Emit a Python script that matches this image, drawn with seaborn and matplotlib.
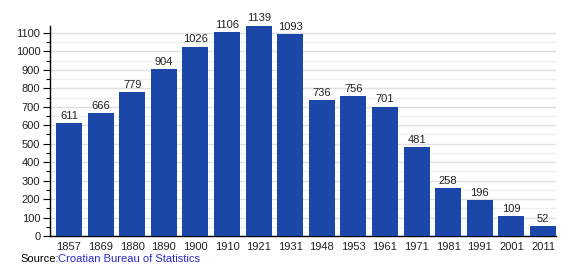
import matplotlib
matplotlib.use("Agg")
import matplotlib.pyplot as plt
import seaborn as sns
import pandas as pd
from matplotlib.ticker import MultipleLocator

years = ["1857", "1869", "1880", "1890", "1900", "1910", "1921", "1931",
         "1948", "1953", "1961", "1971", "1981", "1991", "2001", "2011"]
population = [611, 666, 779, 904, 1026, 1106, 1139, 1093,
              736, 756, 701, 481, 258, 196, 109, 52]

df = pd.DataFrame({"year": years, "pop": population})

sns.set_theme(style="white")
plt.rcParams['font.family'] = ['Liberation Sans', 'DejaVu Sans']

fig = plt.figure(figsize=(5.8, 2.8), dpi=100)
ax = fig.add_axes([50/580, 1-236/280, 506/580, (236-25.5)/280])

sns.barplot(data=df, x="year", y="pop", color="#1a47a8", saturation=1,
            width=0.82, linewidth=0, ax=ax, zorder=3)

ax.set_xlim(-0.6, 15.41)
ax.set_ylim(0, 1140)
ax.yaxis.set_major_locator(MultipleLocator(100))
ax.yaxis.set_minor_locator(MultipleLocator(50))
ax.grid(True, which="major", axis="y", color="#e0e0e0", linewidth=1, zorder=0)
ax.grid(True, which="minor", axis="y", color="#f0f0f0", linewidth=1, zorder=0)
ax.set_axisbelow(True)

for s in ["top", "right"]:
    ax.spines[s].set_visible(False)
for s in ["left", "bottom"]:
    ax.spines[s].set_visible(True)
    ax.spines[s].set_color("black")
    ax.spines[s].set_linewidth(1)

ax.tick_params(axis="y", which="major", length=5, width=0.8, color="black",
               labelsize=8, pad=2, left=True, labelcolor="#222222")
ax.tick_params(axis="y", which="minor", length=3, width=0.8, color="black", left=True)
ax.tick_params(axis="x", length=0, labelsize=8, pad=4, labelcolor="#222222")
ax.set_xlabel("")
ax.set_ylabel("")

for i, v in enumerate(population):
    ax.text(i, v + 12, str(v), ha="center", va="bottom", fontsize=8, color="#222222")

fig.text(20/580, 1-259/280, "Source:", fontsize=8, color="black", va="center")
fig.text(58/580, 1-259/280, "Croatian Bureau of Statistics", fontsize=8,
         color="#2a2ad0", va="center")

fig.savefig("out.png", dpi=100)
